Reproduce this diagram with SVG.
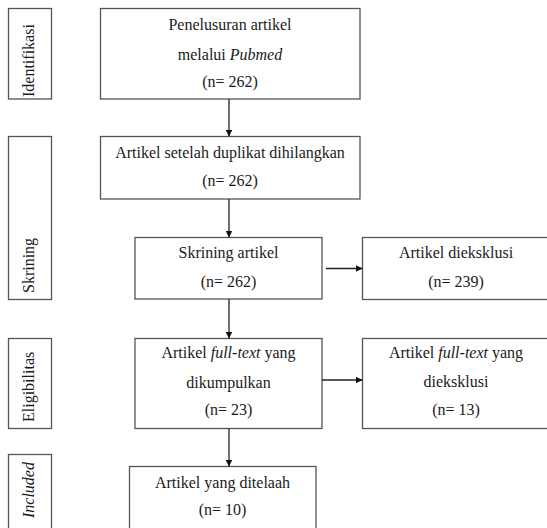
<svg xmlns="http://www.w3.org/2000/svg" width="547" height="528" viewBox="0 0 547 528">
<style>
.box{fill:#fff;stroke:#555;stroke-width:1.3}
.t{font-family:"Liberation Serif","Times New Roman","DejaVu Serif",serif;font-size:16px;fill:#1a1a1a;text-anchor:middle}
.s{font-family:"Liberation Serif","Times New Roman","DejaVu Serif",serif;font-size:16px;fill:#1a1a1a;text-anchor:start}
.c{stroke:#222;stroke-width:1.3;fill:none}
</style>
<defs>
<marker id="ah" viewBox="0 0 10 10" refX="10" refY="5" markerWidth="7" markerHeight="7" markerUnits="userSpaceOnUse" orient="auto">
<path d="M0,0 L10,5 L0,10 Z" fill="#111"/>
</marker>
</defs>
<rect width="547" height="528" fill="#fff"/>
<g id="side-identifikasi"><rect class="box" x="8.5" y="8.5" width="43" height="90.5"/><text class="s" transform="translate(34,97) rotate(-90)">Identifikasi</text></g>
<g id="side-skrining"><rect class="box" x="8.5" y="136.5" width="43" height="163"/><text class="s" transform="translate(34,293) rotate(-90)">Skrining</text></g>
<g id="side-eligibilitas"><rect class="box" x="8.5" y="338.5" width="43" height="90"/><text class="s" transform="translate(34,422) rotate(-90)">Eligibilitas</text></g>
<g id="side-included"><rect class="box" x="8.5" y="454.5" width="43" height="90"/><text class="s" font-style="italic" transform="translate(34,518) rotate(-90)">Included</text></g>

<g id="n1"><rect class="box" x="100.5" y="8.5" width="259.5" height="90.5"/>
<text class="t" x="230" y="30">Penelusuran artikel</text>
<text class="t" x="230" y="60">melalui <tspan font-style="italic">Pubmed</tspan></text>
<text class="t" x="230" y="87">(n= 262)</text></g>
<g id="n2"><rect class="box" x="100.5" y="136.5" width="259.5" height="62.5"/>
<text class="t" x="230" y="158">Artikel setelah duplikat dihilangkan</text>
<text class="t" x="230" y="186">(n= 262)</text></g>
<g id="n3"><rect class="box" x="135" y="237.5" width="187" height="61.5"/>
<text class="t" x="228.5" y="258">Skrining artikel</text>
<text class="t" x="228.5" y="287">(n= 262)</text></g>
<g id="n4"><rect class="box" x="135" y="338.5" width="187" height="90"/>
<text class="t" x="228.5" y="358">Artikel <tspan font-style="italic">full-text</tspan> yang</text>
<text class="t" x="228.5" y="388">dikumpulkan</text>
<text class="t" x="228.5" y="415">(n= 23)</text></g>
<g id="n5"><rect class="box" x="129.5" y="466.5" width="186.5" height="80"/>
<text class="t" x="222.5" y="488">Artikel yang ditelaah</text>
<text class="t" x="222.5" y="515">(n= 10)</text></g>
<g id="n6"><rect class="box" x="362.5" y="237.5" width="220" height="62"/>
<text class="t" x="456" y="258">Artikel dieksklusi</text>
<text class="t" x="456" y="287">(n= 239)</text></g>
<g id="n7"><rect class="box" x="362.5" y="338.5" width="220" height="90"/>
<text class="t" x="456" y="358">Artikel <tspan font-style="italic">full-text</tspan> yang</text>
<text class="t" x="456" y="387">dieksklusi</text>
<text class="t" x="456" y="415">(n= 13)</text></g>

<g id="connectors">
<line class="c" x1="229" y1="99" x2="229" y2="136.5" marker-end="url(#ah)"/>
<line class="c" x1="229" y1="199" x2="229" y2="237.5" marker-end="url(#ah)"/>
<line class="c" x1="229" y1="299" x2="229" y2="338.5" marker-end="url(#ah)"/>
<line class="c" x1="229" y1="428.5" x2="229" y2="466.5" marker-end="url(#ah)"/>
<line class="c" x1="326" y1="268.5" x2="362.5" y2="268.5" marker-end="url(#ah)"/>
<line class="c" x1="322" y1="380" x2="362.5" y2="380" marker-end="url(#ah)"/>
</g>
</svg>
